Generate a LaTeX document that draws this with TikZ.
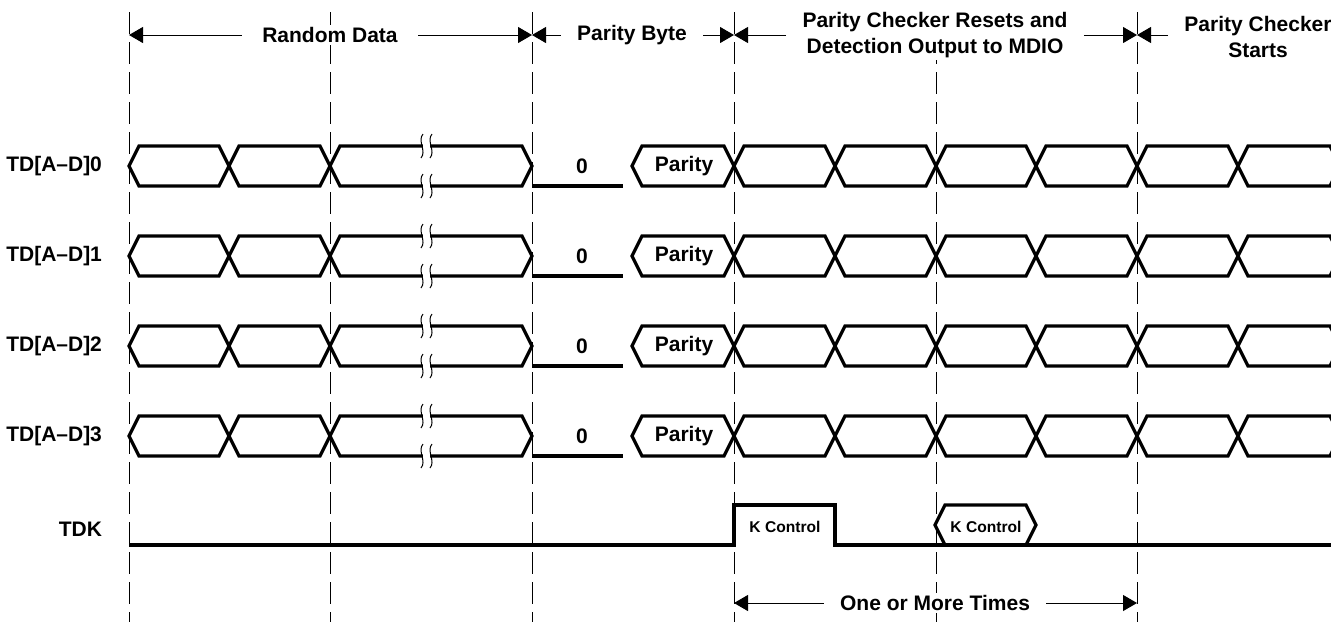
\documentclass[tikz,border=0pt]{standalone}
\usepackage{fontspec}
\setmainfont{Liberation Sans}
\usetikzlibrary{arrows.meta}

\begin{document}
\begin{tikzpicture}[x=0.5pt, y=-0.5pt,
    sig/.style={line width=1.6pt},
    grid/.style={line width=0.5pt, dash pattern=on 11pt off 4pt},
    dim/.style={line width=0.5pt, -{Triangle[length=7pt, width=8pt]}},
    lbl/.style={font=\fontsize{10.5}{13}\selectfont\bfseries},
    hdr/.style={lbl, fill=white, inner xsep=8pt, inner ysep=1pt, align=center},
    small/.style={font=\fontsize{7.8}{9}\selectfont\bfseries}]
  \useasboundingbox (0, 0) rectangle (1331, 622);

  % cycle boundaries
  \foreach \i/\x in {0/129, 1/330, 2/532, 3/734, 4/936, 5/1137} {
    \coordinate (m\i) at (\x, 12);
    \coordinate (a\i) at (\x, 35);
    \coordinate (b\i) at (\x, 603);
    \draw [grid] (m\i) -- (\x, 622);
  }

  % phases
  \node [hdr, inner xsep=10pt] (hrd) at (330, 35) {Random Data};
  \node [hdr] (hpb) at (632, 35) {Parity Byte};
  \node [hdr] (hpc) at (935, 35) {Parity Checker Resets and\\Detection Output to MDIO};
  \node [hdr] (hps) at (1258, 37) {Parity Checker\\Starts};
  \draw [dim] (hrd.west) -- (a0);
  \draw [dim] (hrd.east) -- (a2);
  \draw [dim] (hpb.west) -- (a2);
  \draw [dim] (hpb.east) -- (a3);
  \draw [dim] (hpc.west) -- (a3);
  \draw [dim] (hpc.east) -- (a5);
  \draw [dim] (hps.west |- a5) -- (a5);

  % data lanes
  \foreach \r/\y in {0/166, 1/256, 2/346, 3/436} {
    \node [lbl, anchor=east] (td\r) at (109, \y) {TD[A--D]\r};
    \foreach \a/\b in {129/229, 229/330, 330/532, 632/734, 734/835, 835/936, 936/1036, 1036/1137, 1137/1238, 1238/1340}
      \draw [sig] (\a, \y) -- (\a+10, \y-20) -- (\b-10, \y-20) -- (\b, \y) -- (\b-10, \y+20) -- (\a+10, \y+20) -- cycle;
    \draw [sig] (532, \y+20) -- (623, \y+20);
    \node [lbl] (z\r) at (582, \y) {0};
    \node [lbl] (par\r) at (684, \y) {Parity};
    \foreach \ly in {\y-20, \y+20} {
      \fill [white] (423, \ly-3) rectangle (430, \ly+3);
      \foreach \bx in {422, 431}
        \draw [line width=0.5pt] (\bx+1, \ly-12) .. controls (\bx-5, \ly-5) and (\bx+5, \ly+5) .. (\bx-1, \ly+12);
    }
  }

  % control lane
  \node [lbl, anchor=east] (tdk) at (109, 529) {TDK};
  \draw [sig] (129, 545) -- (734, 545) -- (734, 505) -- (835, 505) -- (835, 545) -- (1340, 545);
  \draw [sig] (935, 525) -- (945, 505) -- (1026, 505) -- (1036, 525) -- (1026, 545) -- (945, 545) -- cycle;
  \node [small] (kc1) at (785, 527) {K Control};
  \node [small] (kc2) at (986, 527) {K Control};

  \node [hdr] (omt) at (935, 603) {One or More Times};
  \draw [dim] (omt.west) -- (b3);
  \draw [dim] (omt.east) -- (b5);
\end{tikzpicture}
\end{document}
